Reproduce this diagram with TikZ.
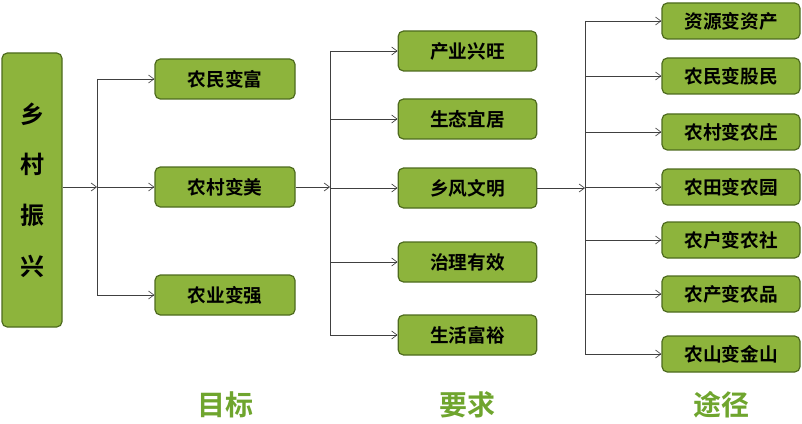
\documentclass[tikz,border=0pt]{standalone}
\usepackage{fontspec}
\setmainfont{Noto Sans CJK SC}[BoldFont={* Bold}]
\usetikzlibrary{arrows.meta}
\definecolor{gfill}{HTML}{8DB43C}
\definecolor{gline}{HTML}{4E6B1E}
\definecolor{gtext}{HTML}{6FA52E}
\tikzset{
 box/.style={draw=gline,line width=0.9pt,fill=gfill,rounded corners=4pt,font=\bfseries\fontsize{14}{16}\selectfont,inner sep=0pt},
 conn/.style={draw=black!75,line width=0.5pt},
 arr/.style={conn,-{Straight Barb[length=4pt,width=6pt]}},
 lab/.style={text=gtext,font=\bfseries\fontsize{21}{25}\selectfont}
}
\begin{document}
\begin{tikzpicture}[x=0.75pt,y=-0.75pt]
\useasboundingbox (0,0) rectangle (802,424);
\node[box,minimum width=45pt,minimum height=205.5pt,align=center,font=\bfseries\fontsize{18}{38}\selectfont] (root) at (32,190) {乡\\村\\振\\兴};
\foreach \n/\t/\y in {a1/农民变富/79,a2/农村变美/187,a3/农业变强/295}
  \node[box,minimum width=105pt,minimum height=30pt] (\n) at (225,\y) {\t};
\foreach \n/\t/\y in {b1/产业兴旺/51,b2/生态宜居/119,b3/乡风文明/188,b4/治理有效/262,b5/生活富裕/335}
  \node[box,minimum width=104pt,minimum height=30pt] (\n) at (467.5,\y) {\t};
\foreach \n/\t/\y in {c1/资源变资产/21,c2/农民变股民/76,c3/农村变农庄/132,c4/农田变农园/187,c5/农户变农社/240,c6/农产变农品/294,c7/农山变金山/354}
  \node[box,minimum width=103.5pt,minimum height=27pt] (\n) at (731,\y) {\t};
\coordinate (j1) at (97,187);
\coordinate (j2) at (330,187);
\coordinate (j3) at (585,188);
\draw[arr] (root.east |- j1) -- (j1);
\draw[conn] (j1 |- a1) -- (j1 |- a3);
\foreach \n in {a1,a2,a3} \draw[arr] (j1 |- \n) -- (\n.west);
\draw[arr] (a2.east) -- (j2);
\draw[conn] (j2 |- b1) -- (j2 |- b5);
\foreach \n in {b1,b2,b3,b4,b5} \draw[arr] (j2 |- \n) -- (\n.west);
\draw[arr] (b3.east) -- (j3);
\draw[conn] (j3 |- c1) -- (j3 |- c7);
\foreach \n in {c1,c2,c3,c4,c5,c6,c7} \draw[arr] (j3 |- \n) -- (\n.west);
\node[lab] (l1) at (225,405) {目标};
\node[lab] (l2) at (467,405) {要求};
\node[lab] (l3) at (721,405) {途径};
\end{tikzpicture}
\end{document}
